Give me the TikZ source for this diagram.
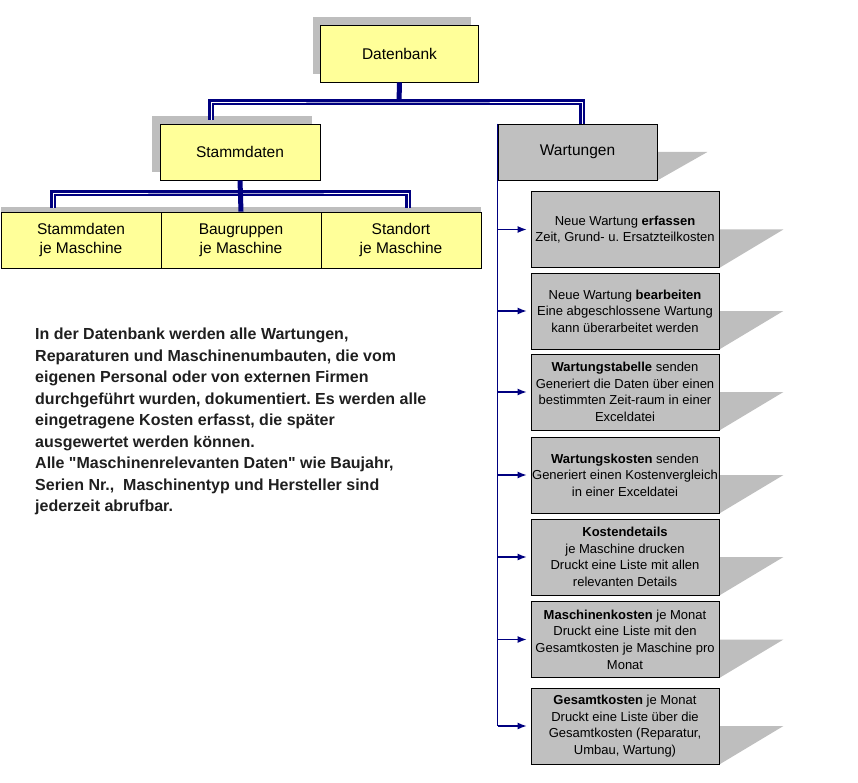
\documentclass[tikz,border=0pt]{standalone}
\usepackage{fontspec}
\setmainfont{Liberation Sans}[Ligatures=TeXOff]
\usetikzlibrary{shadows,backgrounds,arrows.meta}
\frenchspacing

\definecolor{boxyellow}{HTML}{FFFF99}
\definecolor{boxgray}{HTML}{C0C0C0}
\definecolor{shadegray}{HTML}{BEBEBE}
\definecolor{linenavy}{HTML}{000080}
\definecolor{textdark}{HTML}{1F1F1F}

\begin{document}
\begin{tikzpicture}[x=1pt,y=-1pt,
  ybox/.style={draw=black, line width=0.8pt, fill=boxyellow, inner sep=0pt, align=center, font=\fontsize{15.5}{19.3}\selectfont},
  topshade/.style={general shadow={fill=shadegray, shadow xshift=-8pt, shadow yshift=8pt}},
  rowshade/.style={general shadow={fill=shadegray, shadow yshift=4.5pt}},
  gbox/.style={draw=black, line width=0.8pt, fill=boxgray, inner sep=0pt, align=center},
  taskbox/.style={gbox, minimum width=188pt, minimum height=76pt, font=\fontsize{13}{16.6}\selectfont},
  stem/.style={draw=linenavy, line width=5pt},
  busline/.style={draw=linenavy, line width=6pt},
  busgap/.style={draw=white, line width=0.8pt, xshift=-1pt, yshift=1pt},
  spine/.style={draw=linenavy, line width=1.5pt},
  taskarrow/.style={draw=linenavy, line width=1.3pt, -{Latex[length=9pt,width=7pt]}, shorten >=4pt}]
\useasboundingbox (0,0) rectangle (858,783);

% Top level
\node[ybox, topshade, minimum width=158pt, minimum height=57pt] (db) at (399.5,53.5) {Datenbank};
\node[ybox, topshade, minimum width=160pt, minimum height=56pt] (stamm) at (240,152) {Stammdaten};
\node[gbox, minimum width=159pt, minimum height=56pt, font=\fontsize{15.5}{19}\selectfont] (wart) at (577.5,152) {Wartungen};

% Stammdaten je Maschine
\node[ybox, rowshade, minimum width=160pt, minimum height=56pt] (s1) at (81,240) {Stammdaten\\je Maschine};
\node[ybox, rowshade, minimum width=160pt, minimum height=56pt] (s2) at (241,240) {Baugruppen\\je Maschine};
\node[ybox, rowshade, minimum width=160pt, minimum height=56pt] (s3) at (401,240) {Standort\\je Maschine};

% Wartungen tasks
\node[taskbox] (w1) at (625,229.5) {Neue Wartung \textbf{erfassen}\\Zeit, Grund- u. Ersatzteilkosten};
\node[taskbox] (w2) at (625,311) {Neue Wartung \textbf{bearbeiten}\\Eine abgeschlossene Wartung\\kann überarbeitet werden};
\node[taskbox] (w3) at (625,392) {\textbf{Wartungstabelle} senden\\Generiert die Daten über einen\\bestimmten Zeit-raum in einer\\Exceldatei};
\node[taskbox] (w4) at (625,475) {\textbf{Wartungskosten} senden\\Generiert einen Kostenvergleich\\in einer Exceldatei};
\node[taskbox] (w5) at (625,557) {\textbf{Kostendetails}\\je Maschine drucken\\Druckt eine Liste mit allen\\relevanten Details};
\node[taskbox] (w6) at (625,639.5) {\textbf{Maschinenkosten} je Monat\\Druckt eine Liste mit den\\Gesamtkosten je Maschine pro\\Monat};
\node[taskbox] (w7) at (625,726) {\textbf{Gesamtkosten} je Monat\\Druckt eine Liste über die\\Gesamtkosten (Reparatur,\\Umbau, Wartung)};

% Perspective shadows
\begin{scope}[on background layer]
\foreach \n/\d in {wart/50,w1/64,w2/64,w3/64,w4/64,w5/64,w6/64,w7/64}
  \fill[shadegray] (\n.south west) -- (\n.south east) -- ([xshift=\d pt]\n.east) -- ([xshift=\d pt]\n.west) -- cycle;
\end{scope}

% Connectors
\coordinate (topbus) at (399,102);
\coordinate (stammdrop) at (211,120);
\coordinate (wartdrop) at (582,124);
\draw[stem] (db.south) -- (topbus);
\draw[busline] (stammdrop) |- (topbus) -| (wartdrop);
\draw[busgap] (stammdrop) |- (topbus) -| (wartdrop);

\coordinate (rowbus) at (241,193);
\coordinate (s1drop) at (53,208);
\coordinate (s3drop) at (408,208);
\draw[busline] (s1drop) |- (rowbus) -| (s3drop);
\draw[busgap] (s1drop) |- (rowbus) -| (s3drop);
\draw[stem] (stamm.south) -- (s2.north);

\draw[spine] (wart.north west) -- (wart.west |- w7.west);
\foreach \i in {1,...,7}
  \draw[taskarrow] (wart.west |- w\i.west) -- (w\i.west);

% Description
\node[anchor=north west, inner sep=0pt, align=left, text=textdark, font=\bfseries\fontsize{16}{21.5}\selectfont] (info) at (35,328)
  {In der Datenbank werden alle Wartungen,\\
   Reparaturen und Maschinenumbauten, die vom\\
   eigenen Personal oder von externen Firmen\\
   durchgeführt wurden, dokumentiert. Es werden alle\\
   eingetragene Kosten erfasst, die später\\
   ausgewertet werden können.\\
   Alle "Maschinenrelevanten Daten" wie Baujahr,\\
   Serien Nr.,~ Maschinentyp und Hersteller sind\\
   jederzeit abrufbar.};
\end{tikzpicture}
\end{document}
